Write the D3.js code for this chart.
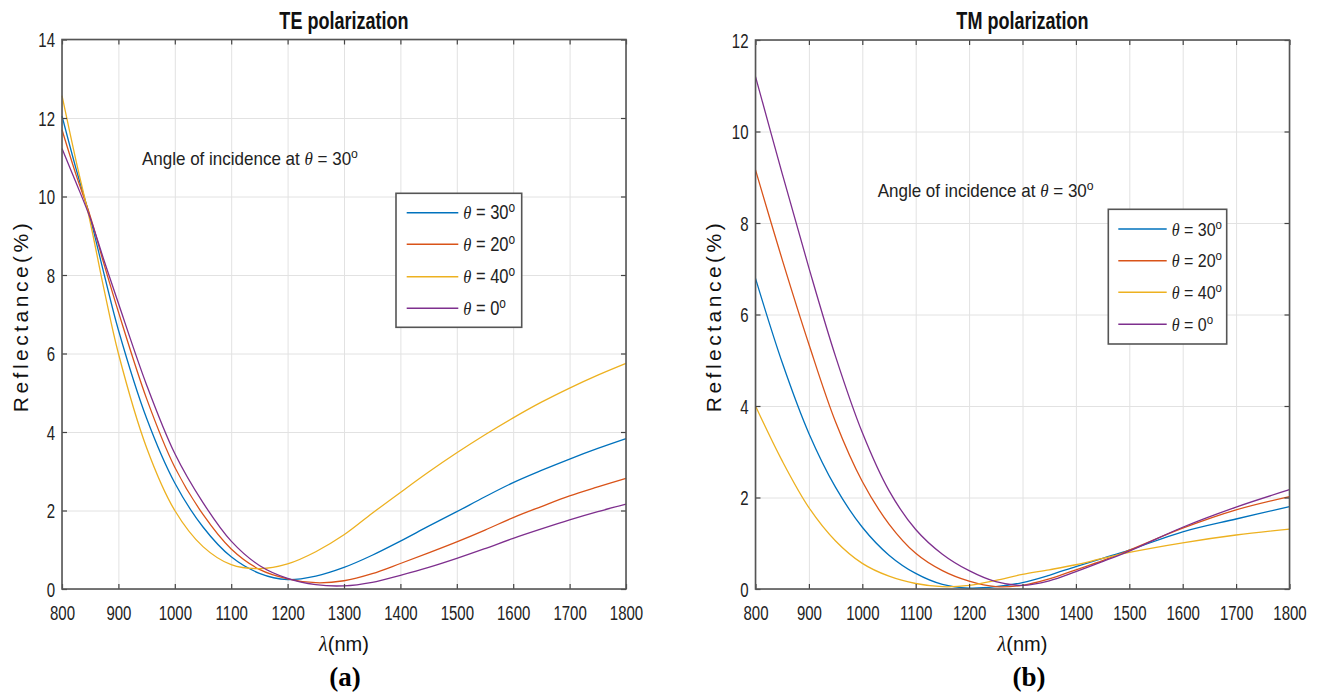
<!DOCTYPE html>
<html><head><meta charset="utf-8">
<script src="https://cdn.jsdelivr.net/npm/d3@7"></script>
<style>body{margin:0;background:#fff}svg{display:block}</style>
</head><body>
<script>
// ---------------- data ----------------
const xTicks = [800, 900, 1000, 1100, 1200, 1300, 1400, 1500, 1600, 1700, 1800];
const teYTicks = [0, 2, 4, 6, 8, 10, 12, 14];
const tmYTicks = [0, 2, 4, 6, 8, 10, 12];
const legendAngles = ["30", "20", "40", "0"];
const panelTitles = ["TE polarization", "TM polarization"];
const panelLetters = ["(a)", "(b)"];

const teWavelengths = [800, 825, 850, 875, 900, 950, 1000, 1050, 1100, 1150, 1200, 1250, 1300, 1350, 1400, 1450, 1500, 1550, 1600, 1650, 1700, 1750, 1800];
const teTheta30 = [12.05, 10.7, 9.45, 8.0, 6.6, 4.35, 2.7, 1.58, 0.82, 0.4, 0.24, 0.33, 0.55, 0.86, 1.22, 1.6, 1.97, 2.35, 2.71, 3.02, 3.31, 3.58, 3.83];
const teTheta20 = [11.7, 10.55, 9.5, 8.25, 7.06, 4.85, 3.1, 1.9, 1.02, 0.5, 0.26, 0.16, 0.21, 0.39, 0.65, 0.92, 1.2, 1.5, 1.82, 2.1, 2.37, 2.6, 2.82];
const teTheta40 = [12.57, 10.9, 9.35, 7.6, 6.0, 3.6, 2.0, 1.08, 0.62, 0.52, 0.64, 0.95, 1.38, 1.93, 2.46, 2.98, 3.47, 3.93, 4.36, 4.76, 5.12, 5.45, 5.75];
const teTheta0  = [11.22, 10.35, 9.45, 8.35, 7.28, 5.2, 3.45, 2.2, 1.22, 0.6, 0.27, 0.11, 0.08, 0.17, 0.35, 0.55, 0.78, 1.03, 1.29, 1.53, 1.76, 1.97, 2.16];

const tmWavelengths = [800, 850, 900, 950, 1000, 1050, 1100, 1150, 1200, 1250, 1300, 1350, 1400, 1450, 1500, 1600, 1700, 1800];
const tmTheta30 = [6.79, 4.95, 3.4, 2.22, 1.35, 0.74, 0.34, 0.1, 0.02, 0.05, 0.14, 0.3, 0.49, 0.67, 0.85, 1.25, 1.53, 1.8];
const tmTheta20 = [9.16, 7.2, 5.35, 3.65, 2.35, 1.42, 0.78, 0.4, 0.17, 0.05, 0.08, 0.22, 0.42, 0.62, 0.85, 1.33, 1.73, 2.02];
const tmTheta40 = [4.0, 2.8, 1.78, 1.05, 0.56, 0.28, 0.12, 0.05, 0.08, 0.19, 0.32, 0.42, 0.53, 0.67, 0.8, 1.01, 1.18, 1.31];
const tmTheta0  = [11.2, 9.08, 7.02, 5.08, 3.42, 2.15, 1.3, 0.76, 0.4, 0.16, 0.08, 0.18, 0.38, 0.6, 0.83, 1.35, 1.79, 2.17];

const colors = ["#0072BD", "#D95319", "#EDB120", "#7E2F8E"];

// ---------------- drawing ----------------
const SANS = "'Liberation Sans', Arial, Helvetica, sans-serif";
const svg = d3.select("body").append("svg").attr("width", 1322).attr("height", 697);
svg.append("rect").attr("width", 1322).attr("height", 697).attr("fill", "#fff");

function thetaText(parent, x, y, size, sx, sy) {
  return parent.append("text")
    .attr("transform", `translate(${x},${y}) scale(${sx},${sy})`)
    .attr("font-family", SANS).attr("font-size", size).attr("fill", "#222");
}
function addTheta(t, prefix, num) {
  if (prefix) t.append("tspan").text(prefix);
  t.append("tspan").attr("font-family", "'Liberation Serif', 'Times New Roman', serif").attr("font-style", "italic").text("\u03b8");
  t.append("tspan").text(" = " + num);
  t.append("tspan").attr("dy", "-0.5em").attr("font-size", "0.72em").text("o");
}

function panel(cfg) {
  const g = svg.append("g");
  const x = d3.scaleLinear().domain([800, 1800]).range([cfg.x0, cfg.x1]);
  const y = d3.scaleLinear().domain([0, cfg.ymax]).range([cfg.y0, cfg.y1]);
  const W = cfg.x1 - cfg.x0, H = cfg.y0 - cfg.y1;

  // grid
  g.append("g").attr("transform", `translate(0,${cfg.y0})`)
    .call(d3.axisBottom(x).tickValues(xTicks).tickSize(-H).tickFormat(""))
    .call(s => { s.select(".domain").remove(); s.selectAll("line").attr("stroke", "#e2e2e2").attr("stroke-width", 1); });
  g.append("g").attr("transform", `translate(${cfg.x0},0)`)
    .call(d3.axisLeft(y).tickValues(cfg.yTicks).tickSize(-W).tickFormat(""))
    .call(s => { s.select(".domain").remove(); s.selectAll("line").attr("stroke", "#e2e2e2").attr("stroke-width", 1); });

  // curves
  const line = d3.line().x(d => x(d[0])).y(d => y(Math.max(0, d[1]))).curve(d3.curveCatmullRom.alpha(0.5));
  cfg.series.forEach((s, i) => {
    g.append("path").datum(cfg.wl.map((w, j) => [w, s[j]]))
      .attr("d", line).attr("fill", "none").attr("stroke", colors[i]).attr("stroke-width", 1.3);
  });

  // axes with inward ticks
  const tickStyle = s => { s.select(".domain").remove(); s.selectAll("line").attr("stroke", "#444").attr("stroke-width", 1.2); };
  const bx = g.append("g").attr("transform", `translate(0,${cfg.y0})`)
    .call(d3.axisBottom(x).tickValues(xTicks).tickSize(-5).tickFormat(d3.format("d"))).call(tickStyle);
  bx.selectAll("text").attr("y", null).attr("dy", null)
    .attr("transform", "translate(0,31) scale(1,1.35)")
    .attr("font-family", SANS).attr("font-size", 15).attr("fill", "#222");
  g.append("g").attr("transform", `translate(0,${cfg.y1})`)
    .call(d3.axisTop(x).tickValues(xTicks).tickSize(-5).tickFormat("")).call(tickStyle);
  const ly = g.append("g").attr("transform", `translate(${cfg.x0},0)`)
    .call(d3.axisLeft(y).tickValues(cfg.yTicks).tickSize(-5).tickFormat(d3.format("d"))).call(tickStyle);
  ly.selectAll("text").attr("x", null).attr("dy", null)
    .attr("transform", "translate(-7,7.3) scale(1,1.35)")
    .attr("font-family", SANS).attr("font-size", 15).attr("fill", "#222");
  g.append("g").attr("transform", `translate(${cfg.x1},0)`)
    .call(d3.axisRight(y).tickValues(cfg.yTicks).tickSize(-5).tickFormat("")).call(tickStyle);

  // box
  g.append("rect").attr("x", cfg.x0).attr("y", cfg.y1).attr("width", W).attr("height", H)
    .attr("fill", "none").attr("stroke", "#555").attr("stroke-width", 1.6);

  // title
  g.append("text").attr("transform", `translate(${(cfg.x0 + cfg.x1) / 2},28.5) scale(0.95,1.25)`)
    .attr("text-anchor", "middle").attr("font-family", SANS).attr("font-weight", "bold")
    .attr("font-size", 19).attr("fill", "#111").text(cfg.title);

  // y label
  g.append("text").attr("transform", `translate(${cfg.ylabX},316) rotate(-90)`)
    .attr("text-anchor", "middle").attr("font-family", SANS).attr("font-size", 21).attr("fill", "#111")
    .attr("letter-spacing", 3.5)
    .text("Reflectance(%)");

  // x label
  const xl = g.append("text").attr("transform", `translate(${(cfg.x0 + cfg.x1) / 2},651)`)
    .attr("text-anchor", "middle").attr("font-family", SANS).attr("font-size", 20).attr("fill", "#111");
  xl.append("tspan").attr("font-style", "italic").attr("font-family", "'Liberation Serif', serif").text("\u03bb");
  xl.append("tspan").text("(nm)");

  // panel letter
  g.append("text").attr("x", cfg.letterX).attr("y", 686).attr("text-anchor", "middle")
    .attr("font-family", "'Liberation Serif', 'Times New Roman', serif").attr("font-weight", "bold")
    .attr("font-size", 27).attr("fill", "#000").text(cfg.letter);

  // annotation
  const an = thetaText(g, cfg.annX, cfg.annY, 17, 1, 1.1);
  addTheta(an, "Angle of incidence at ", "30");

  // legend
  const L = cfg.legend;
  g.append("rect").attr("x", L.x0).attr("y", L.y0).attr("width", L.x1 - L.x0).attr("height", L.y1 - L.y0)
    .attr("fill", "#fff").attr("stroke", "#555").attr("stroke-width", 1.6);
  legendAngles.forEach((a, i) => {
    const yy = L.rows[i];
    g.append("line").attr("x1", L.lx0).attr("x2", L.lx1).attr("y1", yy).attr("y2", yy)
      .attr("stroke", colors[i]).attr("stroke-width", 1.6);
    const t = thetaText(g, L.tx, yy + 6.5, L.size, 1, 1.18);
    addTheta(t, null, a);
  });
}

panel({
  x0: 62, x1: 626, y0: 589, y1: 39.5, ymax: 14, yTicks: teYTicks, wl: teWavelengths,
  series: [teTheta30, teTheta20, teTheta40, teTheta0], title: panelTitles[0], letter: panelLetters[0],
  ylabX: 28, letterX: 345, annX: 142, annY: 165,
  legend: { x0: 396, y0: 193.3, x1: 521.7, y1: 327.3, rows: [212.7, 244.3, 276.7, 308.3], lx0: 406.7, lx1: 458.3, tx: 463.3, size: 16.5 }
});
panel({
  x0: 755.5, x1: 1289.5, y0: 589, y1: 40, ymax: 12, yTicks: tmYTicks, wl: tmWavelengths,
  series: [tmTheta30, tmTheta20, tmTheta40, tmTheta0], title: panelTitles[1], letter: panelLetters[1],
  ylabX: 721, letterX: 1029, annX: 877.7, annY: 196.5,
  legend: { x0: 1108.3, y0: 209.3, x1: 1226.7, y1: 344, rows: [229, 260.7, 292.3, 324.3], lx0: 1118.3, lx1: 1166.7, tx: 1171.7, size: 16 }
});
</script>
</body></html>
